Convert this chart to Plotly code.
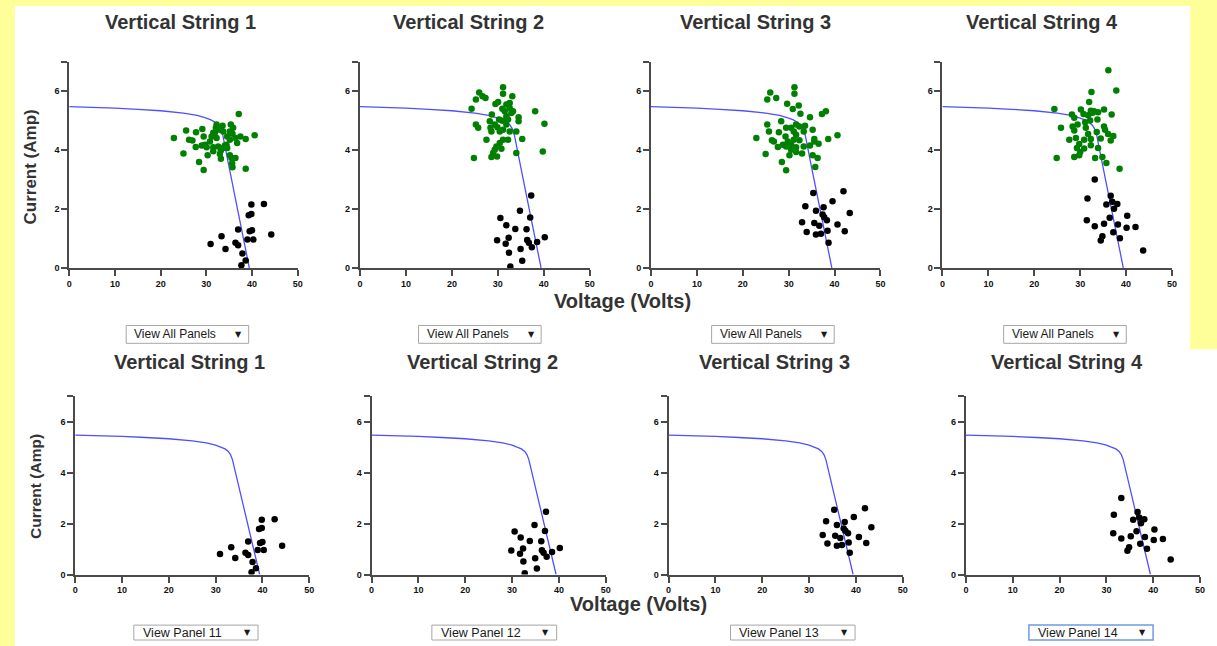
import plotly.graph_objects as go

W, H = 1217, 646

# ---------------- data ----------------
strings = ["Vertical String 1", "Vertical String 2", "Vertical String 3", "Vertical String 4"]
x_ticks = [0, 10, 20, 30, 40, 50]
y_ticks = [0, 2, 4, 6]
top_menu_labels = ["View All Panels", "View All Panels", "View All Panels", "View All Panels"]
bottom_menu_labels = ["View Panel 11", "View Panel 12", "View Panel 13", "View Panel 14"]

# I-V reference curve (Voltage, Current)
iv_v = [0, 5, 10, 15, 20, 25, 28, 30, 31, 32, 32.7, 33.2, 33.6, 35, 37, 39.4]
iv_i = [5.47, 5.45, 5.42, 5.38, 5.33, 5.25, 5.17, 5.08, 5.02, 4.93, 4.83, 4.70, 4.50, 3.40, 1.85, 0.0]

# String 1
green_v_1 = [37.09, 32.24, 33.54, 35.35, 32.09, 33.69, 31.51, 35.14, 35.72, 25.57, 27.74, 29.12, 22.89,
             26.22, 26.95, 29.41, 31.15, 31.87, 32.24, 34.56, 35.14, 36.37, 37.45, 38.61, 40.57, 36.73,
             29.70, 30.79, 27.67, 30.06, 31.51, 32.60, 34.05, 33.69, 34.56, 33.18, 31.51, 24.99, 30.28,
             32.96, 35.14, 36.37, 33.18, 28.40, 35.64, 35.72, 29.41, 38.61, 35.50, 34.41, 28.98, 32.96, 35.86]
green_i_1 = [5.22, 4.86, 4.82, 4.86, 4.75, 4.63, 4.58, 4.63, 4.55, 4.66, 4.60, 4.71, 4.41,
             4.35, 4.32, 4.46, 4.46, 4.58, 4.41, 4.46, 4.35, 4.41, 4.46, 4.37, 4.50, 4.24,
             4.18, 4.29, 4.10, 4.09, 4.09, 4.12, 4.15, 4.07, 4.07, 3.98, 3.96, 3.88, 3.82,
             3.86, 3.82, 3.73, 3.70, 3.59, 3.54, 3.41, 3.32, 3.36, 3.73, 4.18, 4.15, 4.69, 4.75]
black_v_1 = [39.85, 42.60, 39.27, 39.85, 36.95, 39.48, 39.99, 33.32, 44.20, 30.93, 36.37, 36.95,
             38.98, 40.28, 34.19, 37.89, 38.61, 37.67]
black_i_1 = [2.15, 2.17, 1.79, 1.83, 1.30, 1.24, 1.28, 1.07, 1.13, 0.81, 0.85, 0.77,
             0.96, 0.96, 0.645, 0.49, 0.25, 0.09]

# String 2
green_v_2 = [31.13, 25.94, 31.13, 33.14, 27.31, 25.22, 30.05, 29.47, 31.85, 24.28, 30.98, 32.57, 31.49,
             32.93, 38.11, 28.68, 31.85, 34.51, 30.26, 28.24, 30.98, 32.21, 34.51, 40.13, 25.22, 29.32,
             25.72, 28.39, 29.90, 31.13, 28.60, 32.57, 34.01, 30.41, 27.52, 35.30, 31.13, 32.21, 30.41,
             29.69, 29.32, 30.77, 28.96, 29.83, 28.60, 24.79, 34.01, 39.77, 31.85, 33.29, 26.66, 32.57]
green_i_2 = [6.13, 5.95, 5.91, 5.82, 5.76, 5.71, 5.63, 5.56, 5.54, 5.40, 5.40, 5.42, 5.31,
             5.25, 5.31, 5.20, 5.14, 5.11, 5.03, 4.97, 4.99, 5.03, 4.97, 4.89, 4.86, 4.86,
             4.75, 4.75, 4.77, 4.69, 4.63, 4.63, 4.63, 4.63, 4.35, 4.37, 4.35, 4.35, 4.24,
             4.12, 4.01, 4.04, 3.90, 3.78, 3.76, 3.73, 3.90, 3.95, 4.86, 5.31, 5.82, 5.59]
black_v_2 = [30.55, 31.84, 33.79, 36.24, 32.35, 29.83, 31.70, 34.80, 37.03, 37.25, 36.38, 36.74,
             37.39, 38.54, 40.20, 32.42, 34.94, 35.30, 32.71]
black_i_2 = [1.69, 1.45, 1.32, 1.31, 1.02, 0.94, 0.82, 1.94, 1.71, 2.46, 0.95, 0.85,
             0.70, 0.88, 1.04, 0.51, 0.64, 0.24, 0.05]

# String 3
green_v_3 = [31.25, 25.98, 31.25, 25.33, 27.28, 29.66, 32.19, 30.89, 32.55, 37.24, 38.10, 34.64, 25.33,
             28.36, 31.61, 33.56, 29.44, 30.53, 32.33, 35.22, 25.69, 27.86, 31.10, 33.27, 29.30, 31.61,
             22.95, 26.34, 26.77, 29.80, 31.10, 32.33, 35.58, 36.51, 38.61, 40.63, 27.64, 29.44, 30.53,
             31.61, 33.27, 34.64, 24.97, 30.17, 31.61, 32.91, 35.22, 36.30, 28.51, 35.79, 29.44, 29.80,
             28.72, 30.53, 35.58]
green_i_3 = [6.13, 5.95, 5.91, 5.71, 5.76, 5.57, 5.51, 5.39, 5.23, 5.22, 5.31, 5.11, 4.86,
             4.97, 4.86, 4.82, 4.75, 4.75, 4.80, 4.69, 4.63, 4.60, 4.63, 4.63, 4.46, 4.52,
             4.41, 4.33, 4.29, 4.29, 4.35, 4.33, 4.37, 4.21, 4.37, 4.50, 4.10, 4.12, 4.18,
             4.09, 4.12, 4.15, 3.86, 3.82, 3.93, 3.88, 3.82, 3.73, 3.59, 3.42, 3.31, 4.20,
             4.18, 4.01, 4.29]
black_v_3 = [35.36, 41.93, 33.63, 35.94, 37.60, 39.55, 43.30, 37.38, 37.74, 38.32, 32.91, 35.58,
             36.66, 40.63, 33.92, 35.94, 37.02, 38.46, 42.21, 38.68]
black_i_3 = [2.54, 2.60, 2.09, 1.94, 2.06, 2.26, 1.86, 1.81, 1.72, 1.62, 1.55, 1.52,
             1.43, 1.47, 1.22, 1.13, 1.16, 1.26, 1.24, 0.85]

# String 4
green_v_4 = [36.14, 37.87, 32.46, 31.96, 24.38, 30.15, 32.32, 33.04, 33.90, 35.20, 36.86, 28.20, 28.71,
             30.73, 31.74, 32.68, 25.82, 28.35, 29.43, 31.09, 32.17, 33.76, 35.20, 35.42, 28.71, 31.23,
             33.61, 36.07, 37.22, 27.63, 30.87, 32.32, 34.48, 36.65, 29.79, 32.32, 33.90, 29.29, 30.87,
             24.88, 28.71, 29.79, 33.25, 34.84, 35.71, 38.59, 30.01, 29.07, 31.74]
green_i_4 = [6.70, 6.02, 5.97, 5.63, 5.39, 5.37, 5.33, 5.31, 5.28, 5.37, 5.20, 5.20, 5.09,
             5.22, 5.18, 5.26, 4.75, 4.80, 4.86, 4.94, 5.00, 5.03, 4.80, 4.69, 4.66, 4.75,
             4.61, 4.54, 4.47, 4.35, 4.35, 4.37, 4.39, 4.32, 4.20, 4.16, 4.07, 4.07, 4.05,
             3.73, 3.76, 3.82, 3.73, 3.76, 3.56, 3.36, 3.93, 4.41, 4.54]
black_v_4 = [33.18, 31.59, 36.65, 37.00, 35.71, 38.09, 37.37, 31.45, 36.43, 35.20, 33.18, 40.25,
             38.23, 42.06, 40.11, 37.22, 34.84, 34.48, 38.66, 43.72]
black_i_4 = [3.00, 2.35, 2.45, 2.24, 2.15, 2.17, 2.01, 1.62, 1.70, 1.50, 1.41, 1.77,
             1.47, 1.39, 1.36, 1.21, 1.07, 0.93, 1.01, 0.59]

green_v = [green_v_1, green_v_2, green_v_3, green_v_4]
green_i = [green_i_1, green_i_2, green_i_3, green_i_4]
black_v = [black_v_1, black_v_2, black_v_3, black_v_4]
black_i = [black_i_1, black_i_2, black_i_3, black_i_4]

# ---------------- layout geometry (pixels) ----------------
top_x = [(66.7, 296.7), (359.3, 590.7), (652.3, 883.3), (945.7, 1176.7)]
top_y = (62, 270)
bot_x = [(72.7, 308.3), (371, 606.7), (670, 905.7), (969.3, 1205)]
bot_y = (399.3, 579)
top_title_cx = [179, 468.5, 757, 1045.5]
bot_title_cx = [187.5, 482.5, 777, 1071]
top_menu_box = [(124, 247.3), (418.3, 541.7), (713.3, 836.7), (1007.3, 1130.7)]
bot_menu_box = [(131.7, 256.7), (431.7, 557.3), (732.3, 857.7), (1032.7, 1157.7)]


def fx(px):
    return px / W


def fy(py):
    return 1 - py / H


fig = go.Figure()
axis_color = "#4a4a4a"
tick_font = dict(family="Liberation Sans, Arial", size=9, color="#111111", weight="bold")
curve_color = "rgba(60,60,255,0.9)"


def add_axes(idx, xd, yd):
    xa = dict(domain=[fx(xd[0]), fx(xd[1])], range=[0, 50], anchor=f"y{idx}",
              tickvals=x_ticks, ticktext=[str(t) for t in x_ticks],
              showline=True, linecolor=axis_color, linewidth=2, ticks="outside",
              ticklen=6, tickwidth=2, tickcolor=axis_color, showgrid=False, zeroline=False,
              tickfont=tick_font, fixedrange=True)
    ya = dict(domain=[fy(yd[1]), fy(yd[0])], range=[0, 7], anchor=f"x{idx}",
              tickvals=y_ticks + [7], ticktext=[str(t) for t in y_ticks] + [""],
              showline=True, linecolor=axis_color, linewidth=2, ticks="outside",
              ticklen=6, tickwidth=2, tickcolor=axis_color, showgrid=False, zeroline=False,
              tickfont=tick_font, fixedrange=True)
    key = "" if idx == 1 else str(idx)
    fig.update_layout(**{f"xaxis{key}": xa, f"yaxis{key}": ya})
    return ("x" if idx == 1 else f"x{idx}"), ("y" if idx == 1 else f"y{idx}")


for s in range(4):
    # top row
    xr, yr = add_axes(s + 1, top_x[s], top_y)
    fig.add_trace(go.Scatter(x=iv_v, y=iv_i, mode="lines", line=dict(color=curve_color, width=1.3),
                             xaxis=xr, yaxis=yr, showlegend=False, hoverinfo="skip"))
    fig.add_trace(go.Scatter(x=green_v[s], y=green_i[s], mode="markers",
                             marker=dict(color="#008000", size=6.5, line=dict(width=0)),
                             xaxis=xr, yaxis=yr, showlegend=False))
    fig.add_trace(go.Scatter(x=black_v[s], y=black_i[s], mode="markers",
                             marker=dict(color="#000000", size=6.5, line=dict(width=0)),
                             xaxis=xr, yaxis=yr, showlegend=False))
    # bottom row
    xr, yr = add_axes(s + 5, bot_x[s], bot_y)
    fig.add_trace(go.Scatter(x=iv_v, y=iv_i, mode="lines", line=dict(color=curve_color, width=1.3),
                             xaxis=xr, yaxis=yr, showlegend=False, hoverinfo="skip"))
    fig.add_trace(go.Scatter(x=black_v[s], y=black_i[s], mode="markers",
                             marker=dict(color="#000000", size=6.5, line=dict(width=0)),
                             xaxis=xr, yaxis=yr, showlegend=False))

shapes = []
annotations = []
# white page panels over the yellow background
shapes.append(dict(type="rect", xref="paper", yref="paper", x0=fx(12), x1=fx(1195), y0=fy(353), y1=fy(6),
                   fillcolor="white", line=dict(width=0), layer="below"))
shapes.append(dict(type="rect", xref="paper", yref="paper", x0=fx(12), x1=1.02, y0=-0.02, y1=fy(352),
                   fillcolor="white", line=dict(width=0), layer="below"))

title_font = dict(family="Liberation Sans, Arial", size=20, color="#333333", weight="bold")
for s in range(4):
    annotations.append(dict(text=strings[s], x=fx(top_title_cx[s]), y=fy(22.5), xref="paper", yref="paper",
                            showarrow=False, xanchor="center", yanchor="middle", font=title_font))
    annotations.append(dict(text=strings[s], x=fx(bot_title_cx[s]), y=fy(365), xref="paper", yref="paper",
                            showarrow=False, xanchor="center", yanchor="middle", font=title_font))

label_font = dict(family="Liberation Sans, Arial", size=20, color="#333333", weight="bold")
annotations.append(dict(text="Voltage (Volts)", x=fx(623.5), y=fy(303), xref="paper", yref="paper",
                        showarrow=False, xanchor="center", yanchor="middle", font=label_font))
annotations.append(dict(text="Voltage (Volts)", x=fx(640), y=fy(609), xref="paper", yref="paper",
                        showarrow=False, xanchor="center", yanchor="middle", font=label_font))
annotations.append(dict(text="Current (Amp)", x=fx(28), y=fy(168), xref="paper", yref="paper", textangle=-90,
                        showarrow=False, xanchor="center", yanchor="middle",
                        font=dict(family="Liberation Sans, Arial", size=17, color="#333333", weight="bold")))
annotations.append(dict(text="Current (Amp)", x=fx(32), y=fy(490), xref="paper", yref="paper", textangle=-90,
                        showarrow=False, xanchor="center", yanchor="middle",
                        font=dict(family="Liberation Sans, Arial", size=15.5, color="#333333", weight="bold")))

menu_font = dict(family="Liberation Sans, Arial", size=12, color="#1a1a1a")
for s in range(4):
    x0, x1 = top_menu_box[s]
    shapes.append(dict(type="rect", xref="paper", yref="paper", x0=fx(x0), x1=fx(x1), y0=fy(346), y1=fy(328),
                       fillcolor="white", line=dict(color="#a6a6a6", width=1), layer="above"))
    annotations.append(dict(text=top_menu_labels[s], x=fx(x0 + 6), y=fy(337), xref="paper", yref="paper",
                            showarrow=False, xanchor="left", yanchor="middle", font=menu_font))
    annotations.append(dict(text="▼", x=fx(x1 - 10), y=fy(337), xref="paper", yref="paper",
                            showarrow=False, xanchor="center", yanchor="middle",
                            font=dict(family="DejaVu Sans", size=8, color="#1a1a1a")))
    x0, x1 = bot_menu_box[s]
    border = "#6f9be3" if s == 3 else "#a6a6a6"
    shapes.append(dict(type="rect", xref="paper", yref="paper", x0=fx(x0), x1=fx(x1), y0=fy(645), y1=fy(630),
                       fillcolor="white", line=dict(color=border, width=1.5 if s == 3 else 1), layer="above"))
    annotations.append(dict(text=bottom_menu_labels[s], x=fx(x0 + 7), y=fy(637.5), xref="paper", yref="paper",
                            showarrow=False, xanchor="left", yanchor="middle",
                            font=dict(family="Liberation Sans, Arial", size=12.5, color="#1a1a1a")))
    annotations.append(dict(text="▼", x=fx(x1 - 11), y=fy(637.5), xref="paper", yref="paper",
                            showarrow=False, xanchor="center", yanchor="middle",
                            font=dict(family="DejaVu Sans", size=8, color="#1a1a1a")))

fig.update_layout(width=W, height=H, autosize=False,
                  margin=dict(l=0, r=0, t=0, b=0, pad=0),
                  paper_bgcolor="#FFFF99", plot_bgcolor="rgba(0,0,0,0)",
                  shapes=shapes, annotations=annotations, showlegend=False)

fig.write_html("out.html", config={"displayModeBar": False})
